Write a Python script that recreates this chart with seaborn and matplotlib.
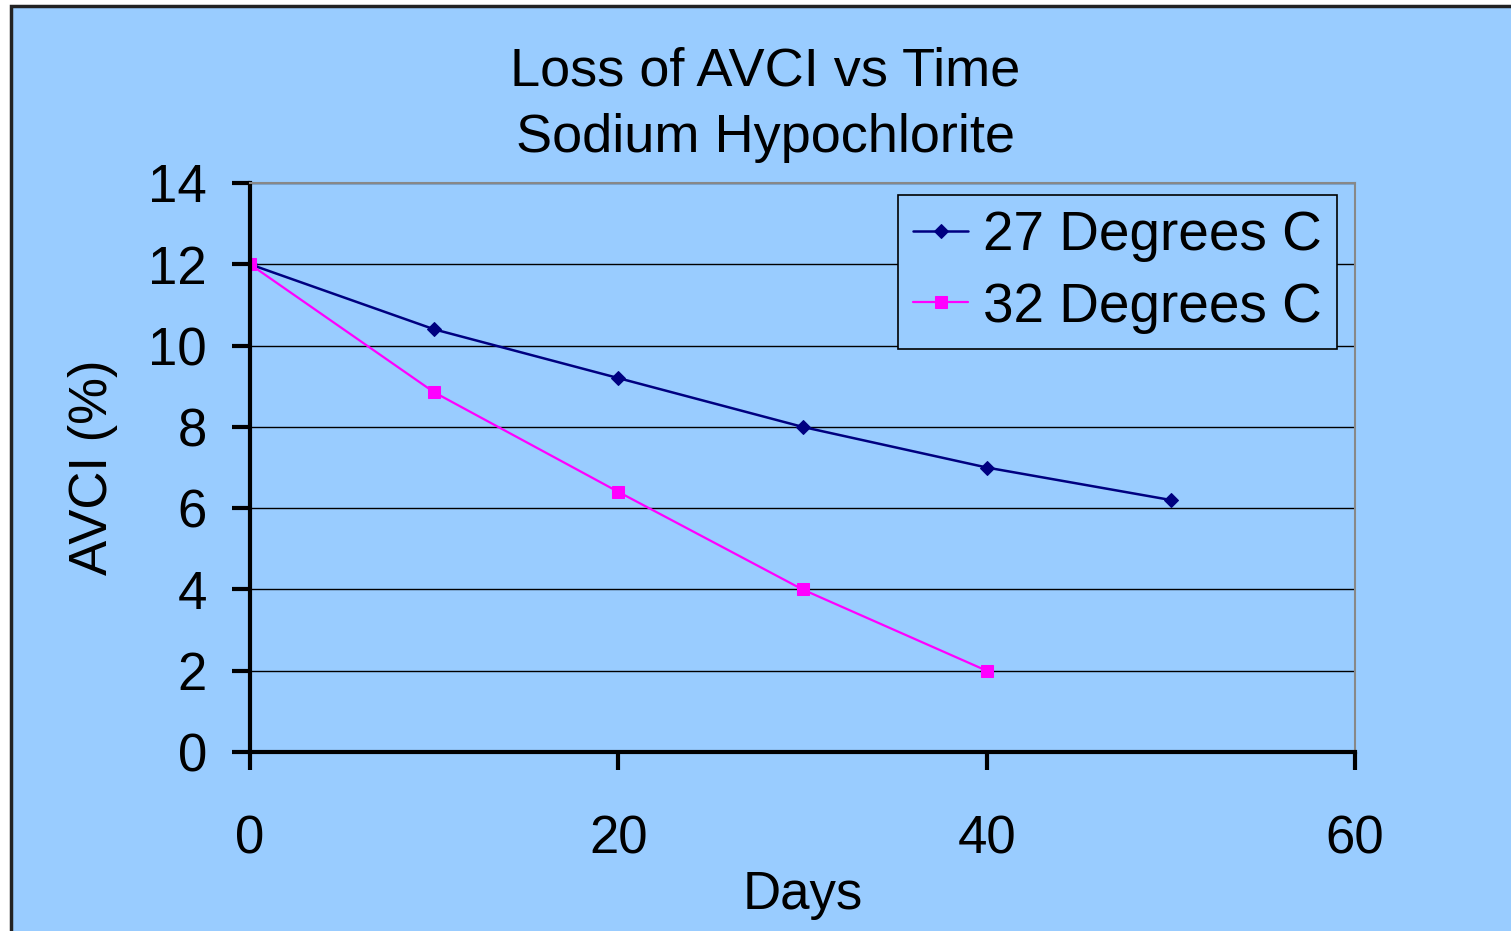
import pandas as pd
import matplotlib.pyplot as plt
import seaborn as sns
from matplotlib.patches import Rectangle

# === Data ===
days_27 = [0, 10, 20, 30, 40, 50]
avci_27 = [12.0, 10.4, 9.2, 8.0, 7.0, 6.2]
days_32 = [0, 10, 20, 30, 40]
avci_32 = [12.0, 8.85, 6.4, 4.0, 2.0]
y_ticks = [0, 2, 4, 6, 8, 10, 12, 14]
x_ticks = [0, 20, 40, 60]

bg = '#99CCFF'

sns.set_theme(style="white")
plt.rcParams['font.family'] = ['Liberation Sans', 'DejaVu Sans']
plt.rcParams['text.color'] = 'black'
plt.rcParams['axes.labelcolor'] = 'black'
plt.rcParams['xtick.color'] = 'black'
plt.rcParams['ytick.color'] = 'black'

fig = plt.figure(figsize=(15.11, 9.31), dpi=100)
fig.patch.set_facecolor('white')
# chart area frame
frame = Rectangle((11 / 1511, -0.1), 1.2, (931 - 6) / 931 + 0.1,
                  transform=fig.transFigure, facecolor=bg,
                  edgecolor='#222222', linewidth=2.5, zorder=-10)
fig.add_artist(frame)

ax = fig.add_axes([250 / 1511, 1 - 752 / 931, 1105 / 1511, 569 / 931])
ax.set_zorder(1)
ax.set_facecolor(bg)

df27 = pd.DataFrame({'Days': days_27, 'AVCI': avci_27})
df32 = pd.DataFrame({'Days': days_32, 'AVCI': avci_32})
sns.lineplot(data=df27, x='Days', y='AVCI', ax=ax, color='#000080', marker='D',
             markersize=7, markeredgecolor='#000080', linewidth=1.8, label='27 Degrees C')
sns.lineplot(data=df32, x='Days', y='AVCI', ax=ax, color='#FF00FF', marker='s',
             markersize=8, markeredgecolor='#FF00FF', linewidth=1.6, label='32 Degrees C')

ax.set_xlim(0, 60)
ax.set_ylim(0, 14)
ax.set_xticks(x_ticks)
ax.set_yticks(y_ticks)
ax.yaxis.grid(True, color='black', linewidth=1.0)
ax.xaxis.grid(False)
ax.set_axisbelow(True)

for side in ['left', 'bottom']:
    ax.spines[side].set_color('black')
    ax.spines[side].set_linewidth(3)
for side in ['top', 'right']:
    ax.spines[side].set_color('#888888')
    ax.spines[side].set_linewidth(1.5)

ax.tick_params(axis='y', direction='out', length=13, width=3, color='black',
               labelsize=38, pad=18, left=True)
ax.tick_params(axis='x', direction='out', length=13, width=3, color='black',
               labelsize=38, pad=32, bottom=True)

ax.set_xlabel('Days', fontsize=38, labelpad=4)
ax.set_ylabel('AVCI (%)', fontsize=38, labelpad=22)

fig.text(765 / 1511, 1 - 72 / 931, 'Loss of AVCI vs Time', ha='center', va='center', fontsize=39)
fig.text(765 / 1511, 1 - 138 / 931, 'Sodium Hypochlorite', ha='center', va='center', fontsize=39)

leg = ax.legend(loc='upper left', bbox_to_anchor=((898 - 250) / 1105, (752 - 195) / 569),
                fontsize=39.5, frameon=True, fancybox=False, borderaxespad=0,
                handlelength=1.0, handletextpad=0.27, labelspacing=0.35, borderpad=0.28)
leg.get_frame().set_facecolor(bg)
leg.get_frame().set_edgecolor('black')
leg.get_frame().set_linewidth(1.2)
leg.get_frame().set_alpha(1)

fig.savefig('out.png', dpi=100)
